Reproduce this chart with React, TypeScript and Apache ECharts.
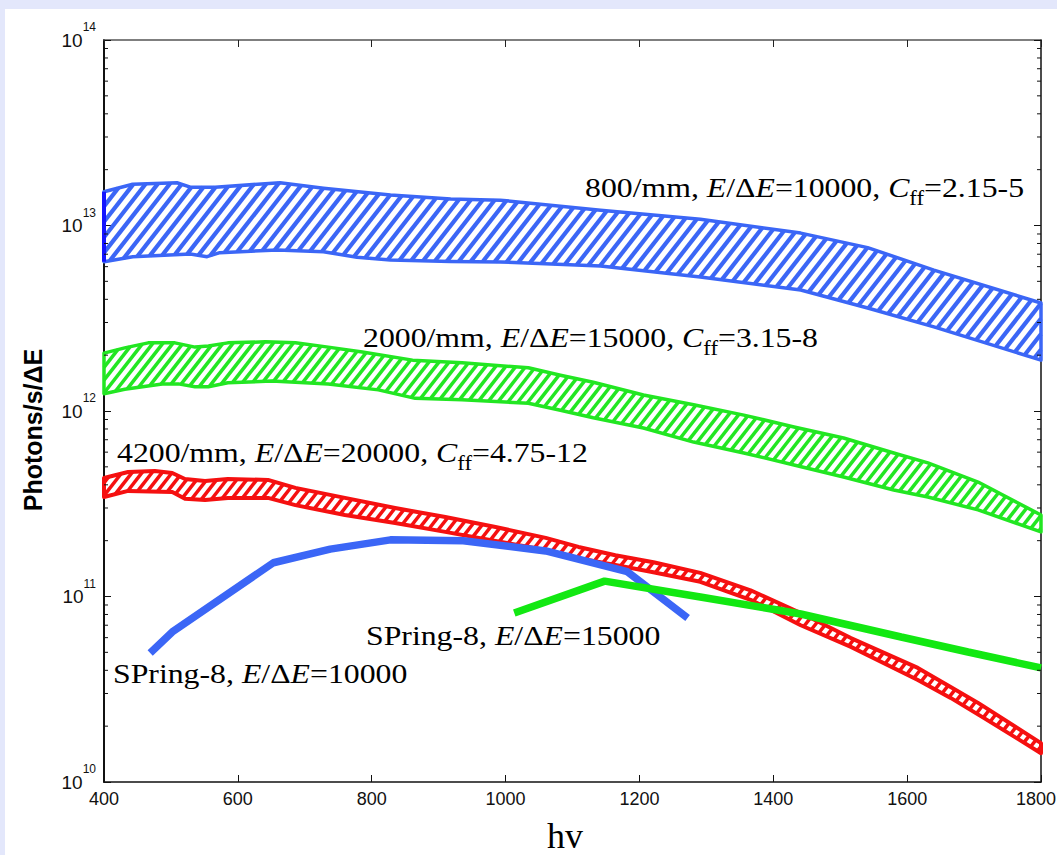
import React, { useEffect, useRef } from 'react';
import * as echarts from 'echarts';

// Photon energy axis (eV)
const hvMin = 400;
const hvMax = 1800;
const hvStep = 200;

// 800/mm grating, E/dE = 10000 (band limits)
const blueUpperHv = [400, 443, 509, 529, 566, 663, 728, 828, 918, 992, 1142, 1291, 1441, 1541, 1640, 1800];
const blueUpper = [1.52e13, 1.67e13, 1.7e13, 1.61e13, 1.61e13, 1.7e13, 1.59e13, 1.46e13, 1.39e13, 1.37e13, 1.21e13, 1.08e13, 9.1e12, 7.6e12, 5.75e12, 3.82e12];
const blueLowerHv = [400, 443, 529, 554, 573, 659, 728, 778, 828, 918, 992, 1142, 1291, 1441, 1541, 1640, 1800];
const blueLower = [6.38e12, 6.79e12, 7.02e12, 6.79e12, 7.14e12, 7.38e12, 7.22e12, 6.74e12, 6.52e12, 6.4e12, 6.36e12, 6.05e12, 5.27e12, 4.49e12, 3.59e12, 2.84e12, 1.88e12];

// 2000/mm grating, E/dE = 15000
const greenUpperHv = [400, 431, 466, 506, 536, 556, 585, 641, 686, 735, 786, 861, 935, 1034, 1082, 1131, 1206, 1281, 1356, 1431, 1505, 1580, 1631, 1706, 1800];
const greenUpper = [2.05e12, 2.19e12, 2.33e12, 2.33e12, 2.21e12, 2.24e12, 2.33e12, 2.36e12, 2.33e12, 2.21e12, 2.08e12, 1.88e12, 1.82e12, 1.71e12, 1.56e12, 1.43e12, 1.22e12, 1.08e12, 9.5e11, 8.2e11, 7.15e11, 5.94e11, 5.25e11, 4.14e11, 2.75e11];
const greenLowerHv = [400, 431, 487, 511, 536, 556, 585, 651, 735, 810, 865, 935, 1034, 1082, 1131, 1206, 1281, 1356, 1431, 1505, 1580, 1631, 1706, 1800];
const greenLower = [1.24e12, 1.31e12, 1.4e12, 1.4e12, 1.35e12, 1.35e12, 1.42e12, 1.45e12, 1.4e12, 1.3e12, 1.17e12, 1.15e12, 1.1e12, 1.01e12, 9.2e11, 8.1e11, 6.8e11, 5.94e11, 5.12e11, 4.41e11, 3.75e11, 3.44e11, 2.93e11, 2.23e11];

// 4200/mm grating, E/dE = 20000
const redUpperHv = [400, 436, 476, 502, 521, 551, 585, 645, 686, 760, 835, 910, 985, 1060, 1109, 1164, 1221, 1291, 1366, 1441, 1516, 1616, 1665, 1706, 1800];
const redUpper = [4.35e11, 4.69e11, 4.75e11, 4.63e11, 4.3e11, 4.2e11, 4.3e11, 4.25e11, 3.85e11, 3.4e11, 3.0e11, 2.68e11, 2.37e11, 2.07e11, 1.85e11, 1.67e11, 1.53e11, 1.34e11, 1.08e11, 8.15e10, 5.97e10, 4.12e10, 3.25e10, 2.67e10, 1.62e10];
const redLowerHv = [400, 436, 502, 521, 551, 585, 645, 686, 760, 835, 910, 985, 1060, 1109, 1164, 1217, 1291, 1366, 1441, 1516, 1616, 1665, 1715, 1800];
const redLower = [3.44e11, 3.71e11, 3.66e11, 3.36e11, 3.31e11, 3.4e11, 3.4e11, 3.11e11, 2.75e11, 2.49e11, 2.23e11, 1.99e11, 1.78e11, 1.61e11, 1.48e11, 1.36e11, 1.2e11, 9.6e10, 7.0e10, 5.35e10, 3.55e10, 2.84e10, 2.21e10, 1.43e10];

// SPring-8 reference curves
const spring10Hv = [469, 502, 653, 738, 828, 937, 1060, 1182, 1272];
const spring10 = [4.96e10, 6.44e10, 1.52e11, 1.8e11, 2.02e11, 2.0e11, 1.76e11, 1.36e11, 7.66e10];
const spring15Hv = [1013, 1148, 1291, 1441, 1591, 1691, 1800];
const spring15 = [8.15e10, 1.21e11, 9.94e10, 8.05e10, 6.05e10, 5.02e10, 4.12e10];

// Log-axis minor tick positions
const minorDecades = [1e10, 1e11, 1e12, 1e13];
const minorSteps = [2, 3, 4, 5, 6, 7, 8, 9];

const SERIF = '"Liberation Serif", "Times New Roman", serif';
const SANS = '"Liberation Sans", Arial, sans-serif';

const BLUE = '#3b66f6';
const GREEN = '#22e622';
const RED = '#f51010';
const HATCH_ANGLE = 52;

type Pt = number[];

// Diagonal hatch segments clipped to a closed polygon (pixel space)
function hatchSegments(poly: Pt[], angleDeg: number, spacing: number): Pt[][] {
  const a = (angleDeg * Math.PI) / 180;
  const dx = Math.cos(a);
  const dy = -Math.sin(a);
  const nx = -dy;
  const ny = dx;
  const proj = poly.map((p) => p[0] * nx + p[1] * ny);
  const cMin = Math.min(...proj);
  const cMax = Math.max(...proj);
  const segs: Pt[][] = [];
  for (let c = Math.ceil(cMin / spacing) * spacing; c <= cMax; c += spacing) {
    const hits: Pt[] = [];
    for (let i = 0; i < poly.length; i++) {
      const j = (i + 1) % poly.length;
      const s1 = proj[i] - c;
      const s2 = proj[j] - c;
      if ((s1 < 0) !== (s2 < 0)) {
        const t = s1 / (s1 - s2);
        hits.push([
          poly[i][0] + t * (poly[j][0] - poly[i][0]),
          poly[i][1] + t * (poly[j][1] - poly[i][1]),
        ]);
      }
    }
    hits.sort((u, v) => u[0] * dx + u[1] * dy - (v[0] * dx + v[1] * dy));
    for (let k = 0; k + 1 < hits.length; k += 2) segs.push([hits[k], hits[k + 1]]);
  }
  return segs;
}

function bandSeries(
  name: string,
  upHv: number[],
  up: number[],
  loHv: number[],
  lo: number[],
  color: string,
  spacing: number,
  hatchWidth: number,
  outlineWidth: number,
  leftEdgeColor?: string
) {
  return {
    name,
    type: 'custom',
    coordinateSystem: 'cartesian2d',
    z: 2,
    data: upHv.map((h, i) => [h, up[i]]),
    renderItem: (params: any, api: any) => {
      if (params.dataIndex !== 0) return { type: 'group', children: [] };
      const top: Pt[] = upHv.map((h, i) => api.coord([h, up[i]]));
      const bottom: Pt[] = loHv.map((h, i) => api.coord([h, lo[i]])).reverse();
      const poly = top.concat(bottom);
      const children: any[] = hatchSegments(poly, HATCH_ANGLE, spacing).map((s) => ({
        type: 'line',
        shape: { x1: s[0][0], y1: s[0][1], x2: s[1][0], y2: s[1][1] },
        style: { stroke: color, lineWidth: hatchWidth },
      }));
      children.push({
        type: 'polygon',
        shape: { points: poly },
        style: { fill: 'none', stroke: color, lineWidth: outlineWidth, lineJoin: 'round' },
      });
      if (leftEdgeColor) {
        const a = top[0];
        const b = bottom[bottom.length - 1];
        children.push({
          type: 'line',
          shape: { x1: a[0], y1: a[1], x2: b[0], y2: b[1] },
          style: { stroke: leftEdgeColor, lineWidth: outlineWidth + 0.5 },
        });
      }
      return { type: 'group', children };
    },
  };
}

const labelRich = {
  n: { fontFamily: SERIF, fontSize: 28, fill: '#000', color: '#000', height: 32, lineHeight: 32, verticalAlign: 'top' },
  i: { fontFamily: SERIF, fontSize: 28, fontStyle: 'italic', fill: '#000', color: '#000', height: 32, lineHeight: 32, verticalAlign: 'top' },
  s: { fontFamily: SERIF, fontSize: 20, fill: '#000', color: '#000', height: 54, lineHeight: 54, verticalAlign: 'top' },
};

function label(text: string, x: number, baseline: number) {
  return {
    type: 'text',
    x,
    y: baseline - 25.5,
    scaleX: 1.135,
    z: 10,
    silent: true,
    style: { text, rich: labelRich, align: 'left', verticalAlign: 'top' },
  };
}

export default function App() {
  const ref = useRef<HTMLDivElement>(null);

  useEffect(() => {
    if (!ref.current) return;
    const chart = echarts.init(ref.current, null, { renderer: 'svg' });

    const minorData: number[][] = [];
    minorDecades.forEach((d) => minorSteps.forEach((m) => minorData.push([hvMin, d * m])));

    const option: any = {
      animation: false,
      backgroundColor: '#e3e7fb',
      grid: { left: 104, right: 16, top: 40, bottom: 73, outerBoundsMode: 'none', containLabel: false },
      xAxis: [
        {
          type: 'value',
          min: hvMin,
          max: hvMax,
          interval: hvStep,
          position: 'bottom',
          axisLine: { show: true, lineStyle: { color: '#111', width: 1.5 } },
          axisTick: { show: true, inside: true, length: 7, lineStyle: { color: '#111', width: 1 } },
          axisLabel: {
            show: true,
            margin: 8,
            fontSize: 18,
            fontFamily: SANS,
            color: '#111',
            showMinLabel: true,
            showMaxLabel: true,
            formatter: (v: number) => (v === hvMax ? `{e|${v}}` : String(v)),
            rich: {
              e: { fontSize: 18, fontFamily: SANS, color: '#111', padding: [0, 10, 0, 0] },
            },
          },
          splitLine: { show: false },
        },
        {
          type: 'value',
          min: hvMin,
          max: hvMax,
          interval: hvStep,
          position: 'top',
          axisLine: { show: true, lineStyle: { color: '#555', width: 1.5 } },
          axisTick: { show: true, inside: true, length: 7, lineStyle: { color: '#222', width: 1 } },
          axisLabel: { show: false },
          splitLine: { show: false },
        },
      ],
      yAxis: [
        {
          type: 'log',
          logBase: 10,
          min: 1e10,
          max: 1e14,
          position: 'left',
          axisLine: { show: true, lineStyle: { color: '#111', width: 2 } },
          axisTick: { show: true, inside: true, length: 7, lineStyle: { color: '#111', width: 1 } },
          axisLabel: {
            show: true,
            margin: 8,
            fontSize: 19,
            fontFamily: SANS,
            color: '#111',
            showMinLabel: true,
            showMaxLabel: true,
            formatter: (v: number) => `{b|10}{s|${Math.round(Math.log10(v))}}`,
            rich: {
              b: { fontFamily: SANS, fontSize: 19, color: '#111', height: 34, lineHeight: 34, verticalAlign: 'top' },
              s: { fontFamily: SANS, fontSize: 12, color: '#111', height: 8, lineHeight: 8, verticalAlign: 'top' },
            },
          },
          splitLine: { show: false },
        },
        {
          type: 'log',
          logBase: 10,
          min: 1e10,
          max: 1e14,
          position: 'right',
          axisLine: { show: true, lineStyle: { color: '#111', width: 1.5 } },
          axisTick: { show: true, inside: true, length: 7, lineStyle: { color: '#111', width: 1 } },
          axisLabel: { show: false },
          splitLine: { show: false },
        },
      ],
      graphic: [
        { type: 'rect', z: -100, silent: true, shape: { x: 5, y: 9, width: 1052, height: 846 }, style: { fill: '#ffffff' } },
        label('{n|800/mm, }{i|E}{n|/Δ}{i|E}{n|=10000, }{i|C}{s|ff}{n|=2.15-5}', 585, 197),
        label('{n|2000/mm, }{i|E}{n|/Δ}{i|E}{n|=15000, }{i|C}{s|ff}{n|=3.15-8}', 363, 347),
        label('{n|4200/mm, }{i|E}{n|/Δ}{i|E}{n|=20000, }{i|C}{s|ff}{n|=4.75-12}', 117, 462),
        label('{n|SPring-8, }{i|E}{n|/Δ}{i|E}{n|=15000}', 366, 645),
        label('{n|SPring-8, }{i|E}{n|/Δ}{i|E}{n|=10000}', 113, 683),
        {
          type: 'text',
          x: 33,
          y: 430,
          rotation: Math.PI / 2,
          z: 10,
          silent: true,
          style: { text: 'Photons/s/ΔE', font: `bold 25px ${SANS}`, fill: '#000', align: 'center', verticalAlign: 'middle' },
        },
        {
          type: 'text',
          x: 565,
          y: 836,
          z: 10,
          silent: true,
          style: { text: 'hv', font: `36px ${SERIF}`, fill: '#000', align: 'center', verticalAlign: 'middle' },
        },
      ],
      series: [
        bandSeries('800/mm', blueUpperHv, blueUpper, blueLowerHv, blueLower, BLUE, 9.5, 4.2, 3.5, '#1414ff'),
        bandSeries('2000/mm', greenUpperHv, greenUpper, greenLowerHv, greenLower, GREEN, 7.9, 3.5, 3.5),
        bandSeries('4200/mm', redUpperHv, redUpper, redLowerHv, redLower, RED, 7.9, 3.5, 4),
        {
          name: 'SPring-8 E/dE=10000',
          type: 'line',
          z: 4,
          showSymbol: false,
          data: spring10Hv.map((h, i) => [h, spring10[i]]),
          lineStyle: { color: BLUE, width: 7.5 },
        },
        {
          name: 'SPring-8 E/dE=15000',
          type: 'line',
          z: 5,
          showSymbol: false,
          data: spring15Hv.map((h, i) => [h, spring15[i]]),
          lineStyle: { color: '#12e812', width: 7.5 },
        },
        {
          name: 'minor ticks',
          type: 'custom',
          coordinateSystem: 'cartesian2d',
          z: 6,
          silent: true,
          data: minorData,
          renderItem: (params: any, api: any) => {
            const v = api.value(1);
            const l = api.coord([hvMin, v]);
            const r = api.coord([hvMax, v]);
            return {
              type: 'group',
              children: [
                { type: 'line', shape: { x1: l[0], y1: l[1], x2: l[0] + 4, y2: l[1] }, style: { stroke: '#111', lineWidth: 1 } },
                { type: 'line', shape: { x1: r[0], y1: r[1], x2: r[0] - 4, y2: r[1] }, style: { stroke: '#111', lineWidth: 1 } },
              ],
            };
          },
        },
      ],
    };

    chart.setOption(option);
    return () => chart.dispose();
  }, []);

  return <div ref={ref} style={{ position: 'absolute', left: 0, top: 0, width: 1057, height: 855 }} />;
}
